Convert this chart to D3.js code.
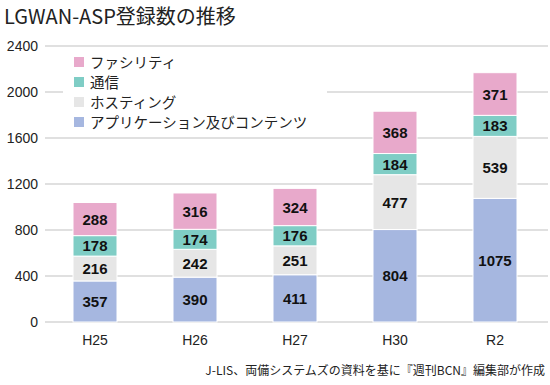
<!DOCTYPE html>
<html><head><meta charset="utf-8">
<script src="https://cdn.jsdelivr.net/npm/d3@7"></script>
<style>body{margin:0;background:#fff}svg{display:block;font-family:"Liberation Sans","Noto Sans CJK JP",sans-serif}</style>
</head><body><svg id="c" width="550" height="385"></svg>
<script>
const categories = ["H25","H26","H27","H30","R2"];
const seriesNames = ["アプリケーション及びコンテンツ","ホスティング","通信","ファシリティ"];
const apps = [357,390,411,804,1075];
const hosting = [216,242,251,477,539];
const comm = [178,174,176,184,183];
const facility = [288,316,324,368,371];
const yTicks = [0,400,800,1200,1600,2000,2400];
const colors = ["#a6b7e0","#e6e6e6","#7fcdc5","#e8a9cb"];

const svg = d3.select("#c");
const data = categories.map((c,i)=>({cat:c, v:[apps[i],hosting[i],comm[i],facility[i]]}));
const x = d3.scaleBand().domain(categories).range([45,545]).paddingInner(0.56).paddingOuter(0.28);
const y = d3.scaleLinear().domain([0,2400]).range([322,46]);

svg.append("text").attr("x",4).attr("y",24).attr("font-size",20).attr("fill","#222")
  .attr("font-family","'Noto Sans CJK JP',sans-serif").text("LGWAN-ASP登録数の推移");

// grid
svg.append("g").selectAll("line").data(yTicks).join("line")
  .attr("x1",45).attr("x2",548).attr("y1",d=>y(d)).attr("y2",d=>y(d))
  .attr("stroke","#d6d6d6").attr("stroke-width",1.5);
svg.append("g").selectAll("text").data(yTicks).join("text")
  .attr("x",38).attr("y",d=>y(d)+5).attr("text-anchor","end").attr("font-size",14).attr("fill","#222").text(d=>d);

// legend background
svg.append("rect").attr("x",63).attr("y",50).attr("width",264).attr("height",84).attr("fill","#fff");
const legOrder = [3,2,1,0];
const lg = svg.append("g").selectAll("g").data(legOrder).join("g")
  .attr("transform",(d,i)=>`translate(74,${57+i*20})`);
lg.append("rect").attr("width",10).attr("height",10).attr("fill",d=>colors[d]);
lg.append("text").attr("x",16).attr("y",10.5).attr("font-size",14.5).attr("fill","#222")
  .attr("font-family","'Noto Sans CJK JP',sans-serif").text(d=>seriesNames[d]);

// bars
const stack = d3.stack().keys([0,1,2,3]).value((d,k)=>d.v[k]);
const series = stack(data);
const g = svg.append("g");
series.forEach((s,k)=>{
  g.selectAll(null).data(s).join("rect")
    .attr("x",d=>x(d.data.cat)).attr("width",x.bandwidth())
    .attr("y",d=>y(d[1])).attr("height",d=>y(d[0])-y(d[1]))
    .attr("fill",colors[k]).attr("stroke","#fff").attr("stroke-width",1);
  g.selectAll(null).data(s).join("text")
    .attr("x",d=>x(d.data.cat)+x.bandwidth()/2).attr("y",d=>(y(d[0])+y(d[1]))/2+5.5)
    .attr("text-anchor","middle").attr("font-size",15).attr("font-weight","bold").attr("fill","#111")
    .text(d=>d.data.v[k]);
});

svg.append("g").selectAll("text").data(categories).join("text")
  .attr("x",d=>x(d)+x.bandwidth()/2).attr("y",345).attr("text-anchor","middle").attr("font-size",14).attr("fill","#222").text(d=>d);

svg.append("text").attr("x",545).attr("y",375).attr("text-anchor","end").attr("font-size",12).attr("fill","#222")
  .attr("font-family","'Noto Sans CJK JP',sans-serif").text("J-LIS、両備システムズの資料を基に『週刊BCN』編集部が作成");
</script></body></html>
